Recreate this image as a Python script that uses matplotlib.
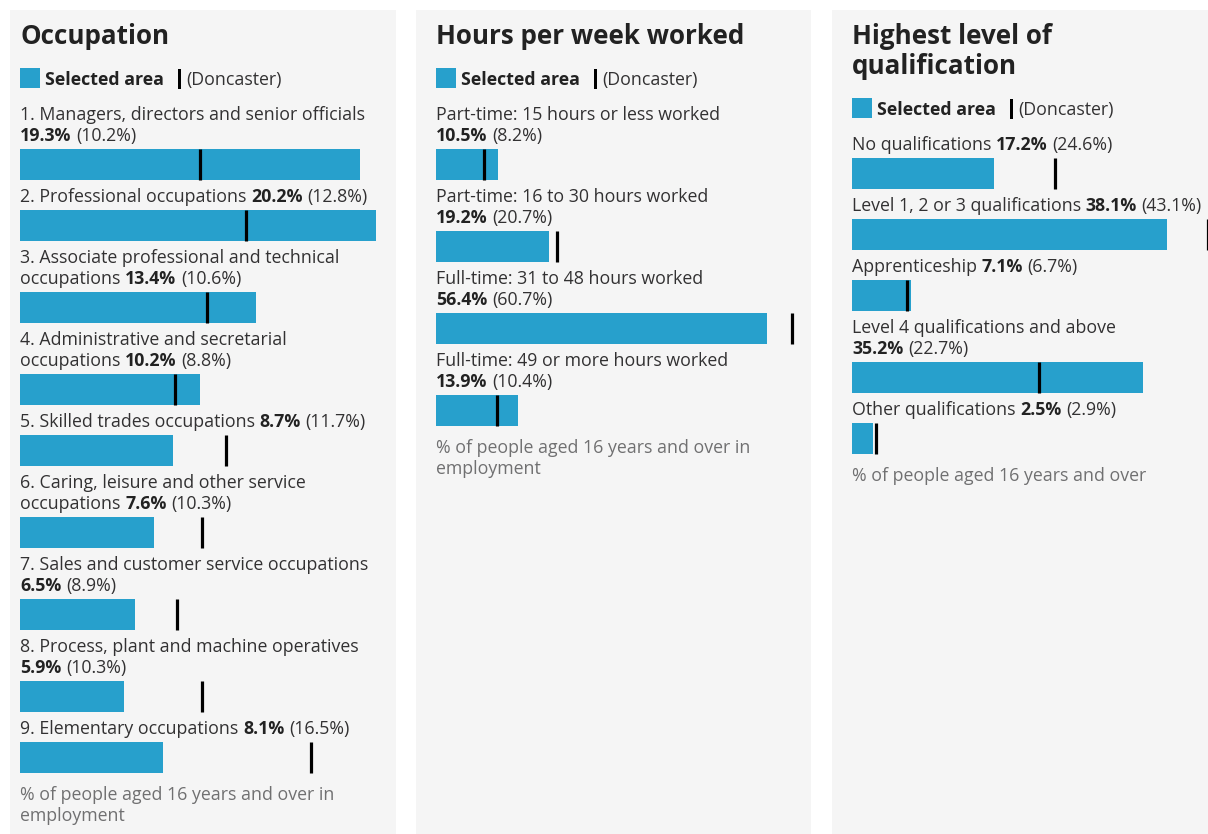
import matplotlib
matplotlib.use("Agg")
import matplotlib.pyplot as plt
from matplotlib.patches import Rectangle
from matplotlib.transforms import IdentityTransform

# ---------------- data ----------------
occ_titles = ["Occupation"]
occ_labels = [
    "1. Managers, directors and senior officials\n",
    "2. Professional occupations",
    "3. Associate professional and technical\noccupations",
    "4. Administrative and secretarial\noccupations",
    "5. Skilled trades occupations",
    "6. Caring, leisure and other service\noccupations",
    "7. Sales and customer service occupations\n",
    "8. Process, plant and machine operatives\n",
    "9. Elementary occupations",
]
occ_values = [19.3, 20.2, 13.4, 10.2, 8.7, 7.6, 6.5, 5.9, 8.1]
occ_compare = [10.2, 12.8, 10.6, 8.8, 11.7, 10.3, 8.9, 10.3, 16.5]
occ_note = ["% of people aged 16 years and over in", "employment"]

hrs_titles = ["Hours per week worked"]
hrs_labels = [
    "Part-time: 15 hours or less worked\n",
    "Part-time: 16 to 30 hours worked\n",
    "Full-time: 31 to 48 hours worked\n",
    "Full-time: 49 or more hours worked\n",
]
hrs_values = [10.5, 19.2, 56.4, 13.9]
hrs_compare = [8.2, 20.7, 60.7, 10.4]
hrs_note = ["% of people aged 16 years and over in", "employment"]

qual_titles = ["Highest level of", "qualification"]
qual_labels = [
    "No qualifications",
    "Level 1, 2 or 3 qualifications",
    "Apprenticeship",
    "Level 4 qualifications and above\n",
    "Other qualifications",
]
qual_values = [17.2, 38.1, 7.1, 35.2, 2.5]
qual_compare = [24.6, 43.1, 6.7, 22.7, 2.9]
qual_note = ["% of people aged 16 years and over"]

legend_selected = "Selected area"
legend_compare = "(Doncaster)"

# ---------------- style ----------------
W, H = 1208, 834
BLUE = "#27a0cc"
BG = "#f5f5f5"
TITLE_C = "#222222"
TEXT_C = "#323132"
NOTE_C = "#707071"
BODY = 17.8 * 0.72
TITLE = 26 * 0.72

plt.rcParams["font.family"] = ["Open Sans", "DejaVu Sans"]

fig = plt.figure(figsize=(W / 100, H / 100), dpi=100)
fig.patch.set_facecolor("white")
renderer = fig.canvas.get_renderer()
ID = IdentityTransform()


def put(x, y, s, size=BODY, weight="normal", color=TEXT_C):
    return fig.text(x, H - y, s, transform=ID, fontsize=size,
                    fontweight=weight, color=color, va="baseline", ha="left",
                    zorder=5)


def text_w(t):
    return t.get_window_extent(renderer).width


def measure(s, weight="normal", size=BODY):
    t = put(0, 0, s, size, weight)
    w = text_w(t)
    t.remove()
    return w


SPACE = measure("a a") - measure("aa")


def rich(x, y, segs):
    for s, weight, color in segs:
        if not s:
            continue
        t = put(x, y, s, BODY, weight, color)
        x += text_w(t) + SPACE
    return x


def rect_px(x, y, w, h, color, z=2):
    fig.add_artist(Rectangle((x, H - y - h), w, h, transform=ID,
                             facecolor=color, edgecolor="none", zorder=z))


panels = [
    (10, 396, 20, occ_titles, occ_labels, occ_values, occ_compare, occ_note),
    (416, 811, 436, hrs_titles, hrs_labels, hrs_values, hrs_compare, hrs_note),
    (832, 1230, 852, qual_titles, qual_labels, qual_values, qual_compare, qual_note),
]

CONTENT_W = 356
LINE = 21
BAR_H = 31

for (bx0, bx1, cx, titles, labels, values, compare, note) in panels:
    rect_px(bx0, 10, bx1 - bx0, H - 10, BG, z=-2)

    # title
    y = 44
    for i, tl in enumerate(titles):
        put(cx, y + 30 * i, tl, TITLE, "bold", TITLE_C)
    y = y + 30 * (len(titles) - 1) + 41

    # legend
    rect_px(cx, y - 17, 20, 20, BLUE)
    t = put(cx + 25, y, legend_selected, BODY, "bold", TITLE_C)
    mx = cx + 25 + text_w(t) + 14
    rect_px(mx, y - 16, 3.5, 20, "black")
    put(mx + 8, y, legend_compare, BODY, "normal", TEXT_C)

    # bars axes: x in %, y in pixel rows of the panel
    ax = fig.add_axes([cx / W, 0, CONTENT_W / W, 1])
    ax.set_xlim(0, max(max(values), max(compare)))
    ax.set_ylim(H, 0)
    ax.axis("off")
    ax.patch.set_alpha(0)

    b = y + 35
    for lab, v, c in zip(labels, values, compare):
        lines = lab.split("\n")
        for j, ln in enumerate(lines[:-1]):
            put(cx, b + LINE * j, ln)
        last_y = b + LINE * (len(lines) - 1)
        rich(cx, last_y, [(lines[-1], "normal", TEXT_C),
                          (f"{v}%", "bold", TITLE_C),
                          (f"({c}%)", "normal", TEXT_C)])
        top = last_y + 8
        ax.barh(top + BAR_H / 2, v, height=BAR_H, color=BLUE, zorder=2)
        ax.vlines(c, top, top + BAR_H, colors="black", linewidth=2.3,
                  zorder=3, clip_on=False)
        b = top + BAR_H + 22

    nb = top + BAR_H + 27
    for j, ln in enumerate(note):
        put(cx, nb + LINE * j, ln, BODY, "normal", NOTE_C)

fig.savefig("out.png", dpi=100, facecolor="white")
